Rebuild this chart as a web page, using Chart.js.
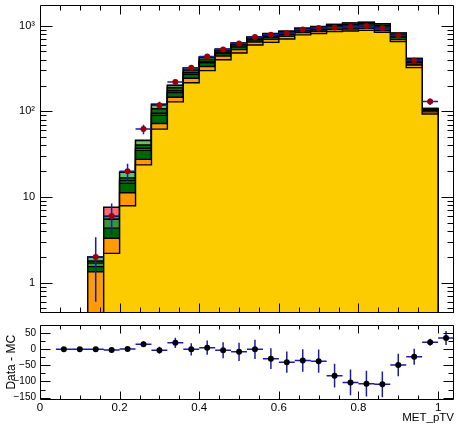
<!DOCTYPE html>
<html>
<head>
<meta charset="utf-8">
<script src="https://cdn.jsdelivr.net/npm/chart.js@4"></script>
<style>
  html, body { margin: 0; padding: 0; background: #fff; }
  #wrap { position: relative; width: 458px; height: 425px; }
  #top { position: absolute; left: 0; top: 0; }
  #bot { position: absolute; left: 0; top: 318px; }
</style>
</head>
<body>
<div id="wrap">
  <canvas id="top" width="458" height="318"></canvas>
  <canvas id="bot" width="458" height="107"></canvas>
</div>
<script>
// ---- MET_pTV binning (width 0.04) ----
const binCenters = [0.06, 0.10, 0.14, 0.18, 0.22, 0.26, 0.30, 0.34, 0.38, 0.42, 0.46, 0.50, 0.54,
                    0.58, 0.62, 0.66, 0.70, 0.74, 0.78, 0.82, 0.86, 0.90, 0.94, 0.98, 1.02];
const binHalfWidth = 0.02;

// ---- stacked background contributions (events per bin), bottom to top ----
const ttbar     = [0, 0, 0, 2.2, 7.9, 23.7, 62, 129, 215, 298, 400, 479, 594, 638, 699, 780, 810, 851, 866, 881, 836, 650, 323, 93, 0];
const singleTop = [0, 0, 1.34, 1.1, 3.3, 3.8, 10, 17, 28, 36, 42, 46, 50, 52, 50, 52, 50, 48, 48, 48, 44, 36, 24, 5.6, 0];
const wbb       = [0, 0, 0.2, 1.03, 3.3, 7.5, 18, 20, 28, 34, 31, 36, 33, 42, 40, 36, 40, 48, 56, 58, 60, 48, 24, 3.3, 0];
const wbc       = [0, 0, 0.15, 1.18, 1.0, 2, 5, 8, 12, 14, 14, 15, 14, 18, 17, 15, 17, 20, 24, 25, 25, 20, 10, 1.4, 0];
const wbl       = [0, 0, 0.1, 0, 1.2, 3.5, 12, 14, 20, 24, 22, 26, 23, 30, 28, 26, 29, 34, 40, 42, 42, 34, 17, 2.4, 0];
const wl        = [0, 0, 0.19, 0.39, 2.7, 5, 13, 12, 18, 21, 20, 22, 21, 26, 25, 23, 25, 30, 36, 36, 38, 30, 15, 2.0, 0];
const zjets     = [0, 0, 0.02, 1.7, 0.2, 0.5, 1, 2, 2, 3, 3, 3, 3, 4, 3, 3, 4, 4, 5, 5, 5, 4, 2, 0.3, 0];

// ---- observed data and its uncertainty ----
const dataCounts = [null, null, 2, 6, 20, 62, 118, 220, 322, 435, 527, 617, 738, 781, 822, 900, 938, 953, 972, 988, 941, 773, 392, 130, null];
const dataErrors = [0, 0, 1.4, 2.4, 4.5, 7.9, 10.9, 14.8, 17.9, 20.8, 23, 24.8, 27.2, 27.9, 28.7, 30, 30.6, 30.9, 31.2, 31.4, 30.7, 27.8, 19.8, 11.4, 0];

// ---- Data - MC residuals ----
const residuals      = [0, 0, 0, -2, 1, 16, -3, 20, 0, 5, -3, -8, 0, -29, -40, -35, -37, -82, -103, -107, -109, -49, -23, 22, 35];
const residualErrors = [0, 0, 1, 2, 4, 8, 11, 16, 19, 22, 25, 28, 30, 32, 33, 35, 36, 37, 40, 40, 40, 35, 25, 11, 22];

// ---- axis ticks ----
const xTickValues = [0, 0.2, 0.4, 0.6, 0.8, 1];
const xTickLabels = ['0', '0.2', '0.4', '0.6', '0.8', '1'];
const yTopTickValues = [1, 10, 100, 1000];
const yTopTickLabels = ['1', '10', '10\u00B2', '10\u00B3'];
const yBotTickValues = [-150, -100, -50, 0, 50];
const yBotTickLabels = ['\u2212150', '\u2212100', '\u221250', '0', '50'];

const FONT = "'Liberation Sans', Arial, Helvetica, sans-serif";
const Y_TOP_MIN = 0.443, Y_TOP_MAX = 1740;
const X_MIN = 0, X_MAX = 1.04;

const layers = [
  { name: 'ttbar',      values: ttbar,     color: '#fccc00' },
  { name: 'single top', values: singleTop, color: '#ff9a00' },
  { name: 'W+bb',       values: wbb,       color: '#006600' },
  { name: 'W+bc',       values: wbc,       color: '#339933' },
  { name: 'W+bl',       values: wbl,       color: '#0b6b0b' },
  { name: 'W+l',        values: wl,        color: '#66c266' },
  { name: 'Z+jets',     values: zjets,     color: '#ff6a6a' }
];

// cumulative stack heights, drawn as filled histogram step outlines
const running = binCenters.map(() => 0);
const stackDatasets = layers.map((layer, k) => {
  layer.values.forEach((v, i) => { running[i] += v; });
  const pts = [];
  binCenters.forEach((c, i) => {
    const v = running[i] > 0 ? running[i] : Y_TOP_MIN;
    pts.push({ x: c - binHalfWidth, y: v });
    pts.push({ x: c + binHalfWidth, y: v });
  });
  return {
    label: layer.name,
    data: pts,
    borderColor: '#000',
    borderWidth: 1.4,
    backgroundColor: layer.color,
    pointRadius: 0,
    fill: k === 0 ? 'start' : '-1',
    tension: 0
  };
});

const dataDataset = {
  label: 'data',
  data: binCenters.map((c, i) => ({ x: c, y: dataCounts[i] })),
  errors: dataErrors,
  errColor: '#1a1ab0',
  showLine: false,
  pointRadius: 3,
  pointBackgroundColor: '#9a0000',
  pointBorderColor: '#9a0000',
  pointBorderWidth: 0,
  order: -1
};

const residualDataset = {
  label: 'Data - MC',
  data: binCenters.map((c, i) => ({ x: c, y: residuals[i] })),
  errors: residualErrors,
  errColor: '#1a1ab0',
  showLine: false,
  pointRadius: 3,
  pointBackgroundColor: '#000',
  pointBorderColor: '#000',
  pointBorderWidth: 0,
  order: -1
};

// keep tick-label overhang from shrinking the plotting area
const noOverhang = s => {
  s.paddingTop = 0; s.paddingBottom = 0; s.paddingLeft = 0; s.paddingRight = 0;
};

// error bars (bin-wide horizontal, +-error vertical), drawn just under their markers
const errorBarsPlugin = {
  id: 'errorBars',
  beforeDatasetDraw(chart, args) {
    const ds = chart.data.datasets[args.index];
    if (!ds.errors) return;
    const { ctx, chartArea: a, scales: { x, y } } = chart;
    ctx.save();
    ctx.beginPath();
    ctx.rect(a.left, a.top, a.right - a.left, a.bottom - a.top);
    ctx.clip();
    ctx.strokeStyle = ds.errColor;
    ctx.lineWidth = 1.5;
    ctx.beginPath();
    ds.data.forEach((p, i) => {
      if (p.y === null || p.y === undefined) return;
      const py = y.getPixelForValue(p.y);
      const px = x.getPixelForValue(p.x);
      ctx.moveTo(x.getPixelForValue(p.x - binHalfWidth), py);
      ctx.lineTo(x.getPixelForValue(p.x + binHalfWidth), py);
      const e = ds.errors[i];
      if (e > 0) {
        ctx.moveTo(px, y.getPixelForValue(p.y + e));
        ctx.lineTo(px, y.getPixelForValue(p.y - e));
      }
    });
    ctx.stroke();
    ctx.restore();
  }
};

// axis frame with inward ticks on all four sides
const framePlugin = {
  id: 'frame',
  afterDatasetsDraw(chart, args, o) {
    const { ctx, chartArea: a, scales: { x, y } } = chart;
    const L = Math.round(a.left) + 0.5, R = Math.round(a.right) - 0.5;
    const T = Math.round(a.top) + 0.5, B = Math.round(a.bottom) - 0.5;
    ctx.save();
    ctx.strokeStyle = '#000';
    ctx.lineWidth = 1;
    ctx.beginPath();
    ctx.rect(L, T, R - L, B - T);
    // x ticks
    const nx = Math.round((x.max - x.min) / o.xMinor);
    for (let j = 0; j <= nx; j++) {
      const v = x.min + j * o.xMinor;
      const isMajor = Math.abs(v / o.xMajor - Math.round(v / o.xMajor)) < 1e-6;
      const len = isMajor ? o.xMajorLen : o.xMinorLen;
      const px = Math.round(x.getPixelForValue(v)) + 0.5;
      if (px <= L || px >= R) continue;
      ctx.moveTo(px, T); ctx.lineTo(px, T + len);
      ctx.moveTo(px, B); ctx.lineTo(px, B - len);
    }
    // y ticks
    const yTicks = [];
    if (o.log) {
      for (let k = Math.floor(Math.log10(y.min)); k <= Math.ceil(Math.log10(y.max)); k++) {
        for (let m = 1; m <= 9; m++) {
          const v = m * Math.pow(10, k);
          if (v >= y.min && v <= y.max) yTicks.push({ v, major: m === 1 });
        }
      }
    } else {
      for (let v = Math.ceil(y.min / o.yMinor) * o.yMinor; v <= y.max; v += o.yMinor) {
        yTicks.push({ v, major: Math.abs(v % o.yMajor) < 1e-6 });
      }
    }
    yTicks.forEach(t => {
      const py = Math.round(y.getPixelForValue(t.v)) + 0.5;
      const len = t.major ? o.yMajorLen : o.yMinorLen;
      ctx.moveTo(L, py); ctx.lineTo(L + len, py);
      ctx.moveTo(R, py); ctx.lineTo(R - len, py);
    });
    ctx.stroke();
    ctx.restore();
  }
};

// ---- upper panel: stacked backgrounds and data, log scale ----
new Chart(document.getElementById('top'), {
  type: 'line',
  data: { datasets: [...stackDatasets, dataDataset] },
  options: {
    responsive: false,
    animation: false,
    devicePixelRatio: 1,
    layout: { padding: { top: 5, right: 2, bottom: 5, left: 0 } },
    plugins: {
      legend: { display: false },
      tooltip: { enabled: false },
      frame: { xMajor: 0.2, xMinor: 0.05, xMajorLen: 9, xMinorLen: 5,
               log: true, yMajorLen: 12, yMinorLen: 6 }
    },
    scales: {
      x: { type: 'linear', min: X_MIN, max: X_MAX, display: false },
      y: {
        type: 'logarithmic',
        min: Y_TOP_MIN, max: Y_TOP_MAX,
        afterFit: s => { s.width = 40; noOverhang(s); },
        afterBuildTicks: s => { s.ticks = yTopTickValues.map(v => ({ value: v })); },
        grid: { display: false, drawTicks: false },
        border: { display: false },
        ticks: {
          autoSkip: false,
          padding: 5,
          color: '#000',
          font: { family: FONT, size: 11 },
          callback: (v, i) => yTopTickLabels[i]
        }
      }
    }
  },
  plugins: [errorBarsPlugin, framePlugin]
});

// ---- lower panel: Data - MC ----
new Chart(document.getElementById('bot'), {
  type: 'line',
  data: { datasets: [residualDataset] },
  options: {
    responsive: false,
    animation: false,
    devicePixelRatio: 1,
    layout: { padding: { top: 7, right: 2, bottom: 0, left: 0 } },
    plugins: {
      legend: { display: false },
      tooltip: { enabled: false },
      frame: { xMajor: 0.2, xMinor: 0.05, xMajorLen: 8, xMinorLen: 4,
               log: false, yMajor: 50, yMinor: 25, yMajorLen: 10, yMinorLen: 5 }
    },
    scales: {
      x: {
        type: 'linear', min: X_MIN, max: X_MAX,
        afterFit: s => { s.height = 25.5; noOverhang(s); },
        afterBuildTicks: s => { s.ticks = xTickValues.map(v => ({ value: v })); },
        grid: { display: false, drawTicks: false },
        border: { display: false },
        ticks: {
          autoSkip: false, maxRotation: 0, padding: 1, color: '#000',
          font: { family: FONT, size: 11.5 },
          callback: (v, i) => xTickLabels[i]
        },
        title: {
          display: true, text: 'MET_pTV', align: 'end', color: '#000',
          font: { family: FONT, size: 11.5 }, padding: { top: 0, bottom: 0 }
        }
      },
      y: {
        type: 'linear', min: -156, max: 75.5,
        afterFit: s => { s.width = 40; noOverhang(s); },
        afterBuildTicks: s => { s.ticks = yBotTickValues.map(v => ({ value: v })); },
        grid: { display: false, drawTicks: false },
        border: { display: false },
        ticks: {
          autoSkip: false, padding: 4, color: '#000',
          font: { family: FONT, size: 10 },
          callback: (v, i) => yBotTickLabels[i]
        },
        title: {
          display: true, text: 'Data - MC', color: '#000',
          font: { family: FONT, size: 12 }, padding: { top: 4, bottom: 0 }
        }
      }
    }
  },
  plugins: [errorBarsPlugin, framePlugin]
});
</script>
</body>
</html>
